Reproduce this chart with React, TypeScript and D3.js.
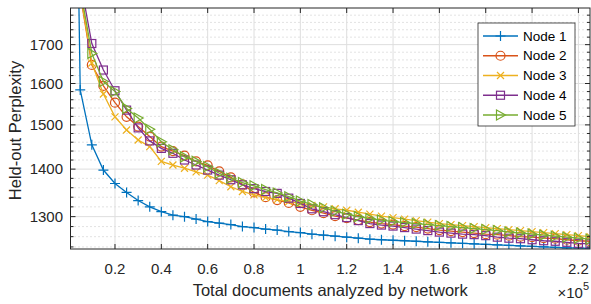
import React from 'react';
import * as d3 from 'd3';

// documents analyzed (x) and held-out perplexity per node
const docs = [1000, 5000, 10000, 15000, 20000, 25000, 30000, 35000, 40000, 45000, 50000,
	55000, 60000, 65000, 70000, 75000, 80000, 85000, 90000, 95000, 100000,
	105000, 110000, 115000, 120000, 125000, 130000, 135000, 140000, 145000, 150000,
	155000, 160000, 165000, 170000, 175000, 180000, 185000, 190000, 195000, 200000,
	205000, 210000, 215000, 220000, 225000];

const node1 = [4000, 1584, 1454, 1398, 1369, 1350, 1333, 1320, 1310, 1303, 1300, 1295, 1290, 1287, 1284, 1280,
	1278, 1275, 1273, 1270, 1268, 1265, 1263, 1261, 1259, 1257, 1255, 1254, 1253, 1252, 1251,
	1250, 1249, 1248, 1247, 1246, 1245, 1244, 1243, 1242, 1241, 1240, 1239, 1238, 1238, 1237];
const node2 = [null, 1840, 1647, 1594, 1553, 1519, 1496, 1473, 1450, 1440, 1430, 1417, 1408, 1395, 1382, 1367,
	1350, 1340, 1334, 1328, 1320, 1313, 1307, 1301, 1297, 1293, 1289, 1286, 1284, 1281, 1279,
	1276, 1273, 1271, 1269, 1267, 1265, 1264, 1262, 1260, 1259, 1257, 1256, 1254, 1252, 1251];
const node3 = [null, 1845, 1652, 1574, 1519, 1488, 1465, 1450, 1417, 1409, 1402, 1394, 1387, 1375, 1362, 1352,
	1345, 1339, 1335, 1331, 1327, 1323, 1320, 1316, 1313, 1309, 1305, 1301, 1298, 1295, 1292,
	1289, 1286, 1284, 1282, 1280, 1278, 1276, 1274, 1272, 1270, 1268, 1266, 1264, 1262, 1260];
const node4 = [null, 1879, 1703, 1634, 1582, 1535, 1493, 1463, 1446, 1435, 1420, 1409, 1398, 1387, 1377, 1366,
	1358, 1352, 1348, 1338, 1327, 1316, 1310, 1304, 1298, 1292, 1286, 1283, 1281, 1278, 1275,
	1272, 1269, 1267, 1265, 1264, 1262, 1259, 1257, 1256, 1254, 1252, 1251, 1249, 1247, 1246];
const node5 = [null, 1856, 1677, 1605, 1580, 1539, 1516, 1490, 1461, 1443, 1427, 1417, 1405, 1391, 1380, 1371,
	1364, 1356, 1349, 1341, 1332, 1325, 1318, 1311, 1305, 1300, 1296, 1293, 1290, 1288, 1286,
	1284, 1282, 1280, 1278, 1276, 1274, 1272, 1269, 1267, 1265, 1263, 1261, 1259, 1257, 1255];

const seriesNames = ['Node 1', 'Node 2', 'Node 3', 'Node 4', 'Node 5'];
const seriesValues = [node1, node2, node3, node4, node5];
const seriesColors = ['#0072BD', '#D95319', '#EDB120', '#7E2F8E', '#77AC30'];
const seriesMarkers = ['plus', 'circle', 'cross', 'square', 'triangle'];

const xTicks = [20000, 40000, 60000, 80000, 100000, 120000, 140000, 160000, 180000, 200000, 220000];
const yTicks = [1300, 1400, 1500, 1600, 1700];
const yMinorTicks = [1240, 1260, 1280, 1320, 1340, 1360, 1380, 1420, 1440, 1460, 1480,
	1520, 1540, 1560, 1580, 1620, 1640, 1660, 1680, 1720, 1740, 1760, 1780];

const W = 591, H = 304;
const box = { left: 70.5, right: 590, top: 8, bottom: 249 };
const font = '"Liberation Sans", Arial, Helvetica, sans-serif';
const ink = '#262626';

function Marker({ kind, color }: { kind: string; color: string }) {
	const common = { fill: 'none', stroke: color, strokeWidth: 1.2 };
	if (kind === 'circle') return <circle r={4.5} {...common} />;
	if (kind === 'square') return <rect x={-4} y={-4} width={8} height={8} {...common} />;
	if (kind === 'triangle') return <path d="M-4,-5L5,0L-4,5Z" {...common} />;
	if (kind === 'cross') return <path d="M-3.5,-3.5L3.5,3.5M-3.5,3.5L3.5,-3.5" {...common} />;
	return <path d="M-5,0H5M0,-5V5" {...common} />;
}

export default function App() {
	const x = d3.scaleLinear().domain([800, 225000]).range([box.left, box.right]);
	const y = d3.scaleLog().domain([1236, 1800]).range([box.bottom, box.top]);

	const line = d3.line<[number, number | null]>()
		.defined(d => d[1] != null)
		.x(d => x(d[0]))
		.y(d => y(d[1] as number));

	const fmt = (v: number) => String(+(v / 1e5).toFixed(1));

	const legendX = 478, legendY = 23, legendW = 97, legendH = 103, rowH = 19.75;

	return (
		<svg width={W} height={H} style={{ position: 'absolute', left: 0, top: 0, background: '#fff' }}
			fontFamily={font}>
			<defs>
				<clipPath id="plotClip">
					<rect x={box.left} y={box.top} width={box.right - box.left} height={box.bottom - box.top} />
				</clipPath>
			</defs>

			{/* minor grid */}
			<g stroke="#b8b8b8" strokeWidth={0.8} strokeDasharray="1,3">
				{yMinorTicks.map(t => (
					<line key={t} x1={box.left} x2={box.right} y1={y(t)} y2={y(t)} />
				))}
			</g>
			{/* major grid */}
			<g stroke="#dedede" strokeWidth={1}>
				{yTicks.map(t => (
					<line key={t} x1={box.left} x2={box.right} y1={y(t)} y2={y(t)} />
				))}
				{xTicks.map(t => (
					<line key={t} x1={x(t)} x2={x(t)} y1={box.top} y2={box.bottom} />
				))}
			</g>

			{/* series */}
			<g clipPath="url(#plotClip)">
				{seriesValues.map((vals, i) => {
					const pts = docs.map((d, j) => [d, vals[j]] as [number, number | null]);
					return (
						<g key={i}>
							<path d={line(pts) || ''} fill="none" stroke={seriesColors[i]} strokeWidth={1.3} />
							{pts.filter(p => p[1] != null).map((p, j) => (
								<g key={j} transform={`translate(${x(p[0])},${y(p[1] as number)})`}>
									<Marker kind={seriesMarkers[i]} color={seriesColors[i]} />
								</g>
							))}
						</g>
					);
				})}
			</g>

			{/* axes box and ticks */}
			<g stroke={ink} strokeWidth={1} fill="none">
				<rect x={box.left} y={box.top} width={box.right - box.left} height={box.bottom - box.top} />
				{xTicks.map(t => (
					<g key={t}>
						<line x1={x(t)} x2={x(t)} y1={box.bottom} y2={box.bottom - 5} />
						<line x1={x(t)} x2={x(t)} y1={box.top} y2={box.top + 5} />
					</g>
				))}
				{yTicks.map(t => (
					<g key={t}>
						<line x1={box.left} x2={box.left + 5} y1={y(t)} y2={y(t)} />
						<line x1={box.right} x2={box.right - 5} y1={y(t)} y2={y(t)} />
					</g>
				))}
				{yMinorTicks.map(t => (
					<g key={t}>
						<line x1={box.left} x2={box.left + 3} y1={y(t)} y2={y(t)} />
						<line x1={box.right} x2={box.right - 3} y1={y(t)} y2={y(t)} />
					</g>
				))}
			</g>

			{/* tick labels */}
			<g fill={ink} fontSize={15}>
				{xTicks.map(t => (
					<text key={t} x={x(t)} y={274} textAnchor="middle">{fmt(t)}</text>
				))}
				{yTicks.map(t => (
					<text key={t} x={63} y={y(t)} dy="0.35em" textAnchor="end">{t}</text>
				))}
				<text x={589} y={298} textAnchor="end">
					<tspan>×10</tspan>
					<tspan fontSize={11} dy={-8}>5</tspan>
				</text>
			</g>

			{/* axis labels */}
			<text x={(box.left + box.right) / 2} y={296} textAnchor="middle" fontSize={16.5} fill={ink}>
				Total documents analyzed by network
			</text>
			<text transform={`translate(21,${(box.top + box.bottom) / 2 + 2}) rotate(-90)`} textAnchor="middle"
				fontSize={16.5} fill={ink}>
				Held-out Perplexity
			</text>

			{/* legend */}
			<g>
				<rect x={legendX} y={legendY} width={legendW} height={legendH} fill="#fff" stroke={ink} strokeWidth={0.8} />
				{seriesNames.map((name, i) => {
					const cy = legendY + 13 + i * rowH;
					return (
						<g key={name}>
							<line x1={legendX + 5} x2={legendX + 40} y1={cy} y2={cy} stroke={seriesColors[i]} strokeWidth={1.3} />
							<g transform={`translate(${legendX + 22.5},${cy})`}>
								<Marker kind={seriesMarkers[i]} color={seriesColors[i]} />
							</g>
							<text x={legendX + 45} y={cy} dy="0.35em" fontSize={13.5} fill="#000">{name}</text>
						</g>
					);
				})}
			</g>
		</svg>
	);
}
